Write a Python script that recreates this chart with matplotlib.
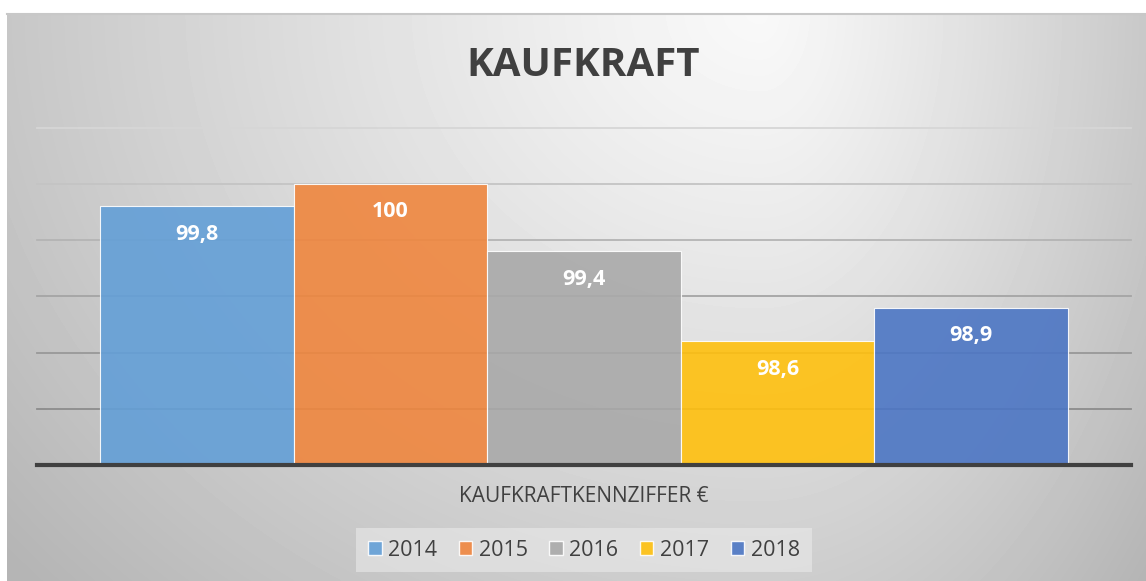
import numpy as np
import matplotlib
matplotlib.use("Agg")
import matplotlib.pyplot as plt
from matplotlib.patches import Patch

# Kaufkraftkennziffer per year
years = ["2014", "2015", "2016", "2017", "2018"]
values = [99.8, 100.0, 99.4, 98.6, 98.9]
labels = ["99,8", "100", "99,4", "98,6", "98,9"]
colors = ["#639FD7", "#EF863E", "#A9A9A9", "#FFC00E", "#4C76C4"]

plt.rcParams["font.family"] = ["Open Sans", "DejaVu Sans"]
W, H = 1146, 581
fig = plt.figure(figsize=(W / 100, H / 100), dpi=100)
fig.patch.set_facecolor("white")

# gradient background of the chart area
bg = fig.add_axes([7 / W, 0, 1 - 7 / W, (H - 14) / H], zorder=0)
xx, yy = np.meshgrid(np.arange(7, W), np.arange(14, H))
dx = xx - 760.0
ax_scale = np.where(dx < 0, 820.0, 430.0)
r = np.sqrt((dx / ax_scale) ** 2 + ((yy - 10.0) / 700.0) ** 2)
v = 0.975 - 0.215 * np.clip(r, 0, 1.2) ** 1.15
bg.imshow(v, cmap="gray", vmin=0, vmax=1, aspect="auto", interpolation="bilinear")
bg.axis("off")
fig.add_artist(plt.Line2D([7 / W, 1], [(H - 14) / H] * 2, color="#c8c8c8", lw=1.5))

ax = fig.add_axes([37 / W, (H - 465) / H, 1094 / W, (465 - 127.6) / H], zorder=1)
ax.patch.set_alpha(0)
x = np.arange(len(years))
ax.set_xlim(-0.5 - 0.328, len(years) - 0.5 + 0.328)
ax.set_ylim(97.5, 100.5)

grid_vals = [98.0, 98.5, 99.0, 99.5, 100.0, 100.5]
grid_cols = ["#8c8c8c", "#989898", "#a4a4a4", "#b4b4b4", "#c4c4c4", "#d6d6d6"]
for gv, gc in zip(grid_vals, grid_cols):
    ax.axhline(gv, color=gc, lw=1.3, zorder=1, clip_on=False)

bars = ax.bar(x, values, width=1.0, bottom=0, color=colors, alpha=0.9,
              edgecolor=(1, 1, 1, 0.6), linewidth=0.8, zorder=2)
for b, lab in zip(bars, labels):
    ax.annotate(lab, (b.get_x() + b.get_width() / 2, b.get_height()),
                xytext=(0, -20), textcoords="offset points",
                ha="center", va="center", color="white",
                fontsize=15.5, fontweight="bold", zorder=3)

ax.axhline(97.5, color="#404040", lw=3.0, zorder=4, clip_on=False)
for s in ax.spines.values():
    s.set_visible(False)
ax.set_xticks([])
ax.set_yticks([])

fig.text(583 / W, 1 - 65 / H, "KAUFKRAFT", ha="center", va="center",
         fontsize=29, fontweight="bold", color="#404040")
fig.text(584 / W, 1 - 497 / H, "KAUFKRAFTKENNZIFFER €", ha="center", va="center",
         fontsize=15, color="#404040")

handles = [Patch(facecolor=c, edgecolor=(1, 1, 1, 0.6), alpha=0.9, label=y)
           for c, y in zip(colors, years)]
leg = fig.legend(handles=handles, loc="center", bbox_to_anchor=(584 / W, 1 - 550 / H),
                 ncol=5, frameon=True, fontsize=15.5, handlelength=0.63, handleheight=0.63,
                 handletextpad=0.3, columnspacing=1.0, borderpad=0.55, fancybox=False,
                 labelcolor="#404040")
leg.get_frame().set_facecolor("#eaeaea")
leg.get_frame().set_alpha(0.6)
leg.get_frame().set_edgecolor("none")

fig.savefig("out.png", dpi=100)
